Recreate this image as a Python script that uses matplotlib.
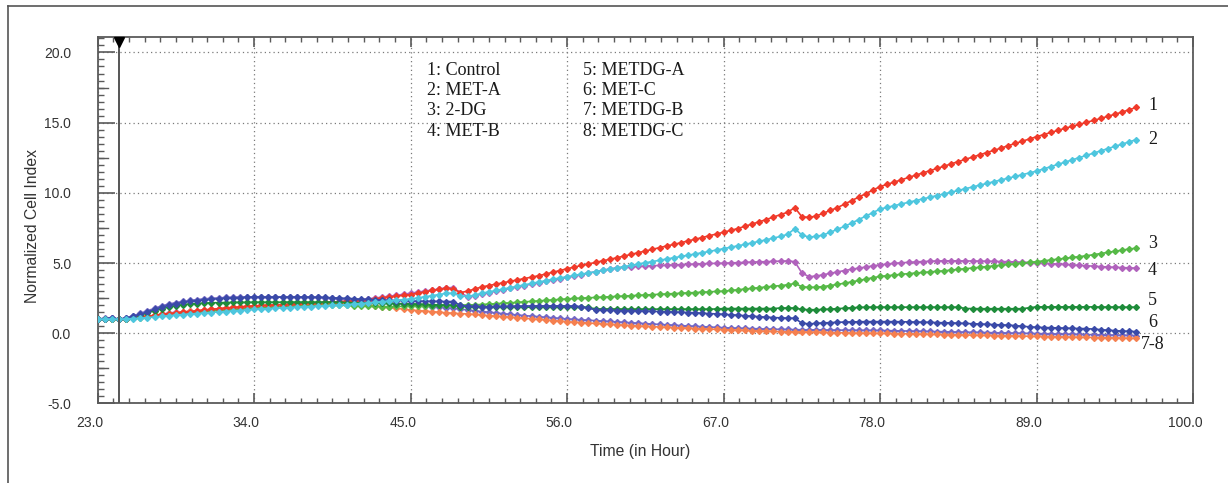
import numpy as np
import matplotlib
matplotlib.use("Agg")
import matplotlib.pyplot as plt
import matplotlib.transforms as mtransforms
from matplotlib.lines import Line2D
from matplotlib.ticker import FixedLocator, MultipleLocator, FormatStrFormatter

# ---------------- data ----------------
time_h = np.arange(23.0, 96.01, 0.5)   # measurement schedule, every 30 min

control = [
    1.00, 1.01, 1.02, 1.00, 1.05, 1.10, 1.15, 1.21, 1.28, 1.34,
    1.40, 1.45, 1.50, 1.55, 1.60, 1.65, 1.70, 1.75, 1.80, 1.84,
    1.88, 1.92, 1.95, 1.98, 2.00, 2.03, 2.05, 2.08, 2.10, 2.13,
    2.15, 2.18, 2.20, 2.23, 2.25, 2.28, 2.32, 2.36, 2.40, 2.46,
    2.52, 2.58, 2.64, 2.70, 2.76, 2.85, 2.95, 3.05, 3.12, 3.20,
    3.15, 2.90, 3.00, 3.15, 3.30, 3.40, 3.50, 3.60, 3.70, 3.80,
    3.90, 4.00, 4.10, 4.22, 4.35, 4.47, 4.60, 4.71, 4.83, 4.94,
    5.05, 5.16, 5.27, 5.38, 5.50, 5.62, 5.74, 5.86, 5.98, 6.10,
    6.22, 6.33, 6.45, 6.58, 6.70, 6.82, 6.95, 7.07, 7.20, 7.33,
    7.46, 7.62, 7.78, 7.94, 8.10, 8.28, 8.45, 8.62, 8.95, 8.30,
    8.25, 8.35, 8.55, 8.75, 8.95, 9.20, 9.45, 9.70, 9.95, 10.20,
    10.45, 10.61, 10.77, 10.93, 11.10, 11.26, 11.42, 11.58, 11.74, 11.90,
    12.07, 12.23, 12.39, 12.55, 12.71, 12.87, 13.03, 13.19, 13.36, 13.52,
    13.68, 13.84, 14.00, 14.15, 14.30, 14.45, 14.60, 14.74, 14.88, 15.02,
    15.16, 15.30, 15.45, 15.60, 15.75, 15.92, 16.08,
]
met_a = [
    1.00, 1.00, 1.01, 1.00, 1.02, 1.05, 1.08, 1.12, 1.15, 1.20,
    1.25, 1.29, 1.33, 1.37, 1.40, 1.44, 1.48, 1.52, 1.55, 1.59,
    1.62, 1.66, 1.70, 1.73, 1.75, 1.78, 1.80, 1.83, 1.85, 1.88,
    1.90, 1.93, 1.95, 1.98, 2.00, 2.04, 2.08, 2.12, 2.15, 2.20,
    2.25, 2.30, 2.35, 2.40, 2.45, 2.52, 2.60, 2.68, 2.76, 2.84,
    2.85, 2.65, 2.62, 2.72, 2.85, 2.95, 3.05, 3.15, 3.25, 3.35,
    3.45, 3.55, 3.65, 3.75, 3.85, 3.94, 4.03, 4.12, 4.21, 4.30,
    4.39, 4.48, 4.57, 4.66, 4.75, 4.84, 4.93, 5.02, 5.11, 5.20,
    5.29, 5.38, 5.47, 5.56, 5.65, 5.74, 5.83, 5.93, 6.03, 6.13,
    6.23, 6.33, 6.44, 6.55, 6.66, 6.78, 6.90, 7.05, 7.45, 7.00,
    6.85, 6.90, 7.00, 7.20, 7.40, 7.62, 7.85, 8.10, 8.35, 8.60,
    8.85, 8.97, 9.09, 9.21, 9.33, 9.45, 9.57, 9.69, 9.81, 9.93,
    10.05, 10.17, 10.30, 10.42, 10.55, 10.67, 10.80, 10.92, 11.05, 11.17,
    11.30, 11.42, 11.55, 11.71, 11.87, 12.03, 12.19, 12.35, 12.51, 12.67,
    12.83, 12.99, 13.15, 13.31, 13.47, 13.63, 13.79,
]
two_dg = [
    1.00, 1.00, 1.01, 1.00, 1.03, 1.07, 1.12, 1.17, 1.22, 1.28,
    1.34, 1.38, 1.42, 1.46, 1.50, 1.54, 1.58, 1.62, 1.65, 1.69,
    1.73, 1.77, 1.80, 1.83, 1.86, 1.88, 1.90, 1.92, 1.94, 1.96,
    1.97, 1.98, 1.99, 2.00, 2.00, 1.98, 1.96, 1.94, 1.93, 1.91,
    1.90, 1.90, 1.91, 1.92, 1.93, 1.95, 1.96, 1.97, 1.98, 1.99,
    2.00, 2.01, 2.02, 2.03, 2.05, 2.08, 2.11, 2.14, 2.17, 2.20,
    2.24, 2.27, 2.31, 2.34, 2.38, 2.41, 2.45, 2.48, 2.50, 2.53,
    2.55, 2.58, 2.60, 2.63, 2.65, 2.68, 2.70, 2.73, 2.75, 2.78,
    2.80, 2.83, 2.85, 2.88, 2.90, 2.93, 2.95, 2.98, 3.00, 3.05,
    3.10, 3.15, 3.20, 3.25, 3.30, 3.35, 3.40, 3.45, 3.55, 3.32,
    3.27, 3.28, 3.33, 3.40, 3.48, 3.57, 3.66, 3.76, 3.86, 3.96,
    4.05, 4.10, 4.15, 4.20, 4.25, 4.29, 4.33, 4.37, 4.41, 4.45,
    4.50, 4.55, 4.60, 4.65, 4.70, 4.75, 4.80, 4.85, 4.90, 4.95,
    5.00, 5.05, 5.10, 5.16, 5.22, 5.28, 5.34, 5.40, 5.46, 5.52,
    5.60, 5.68, 5.76, 5.84, 5.92, 6.00, 6.06,
]
met_b = [
    1.00, 1.04, 1.06, 1.00, 1.04, 1.08, 1.13, 1.20, 1.28, 1.36,
    1.44, 1.50, 1.52, 1.56, 1.60, 1.64, 1.68, 1.72, 1.75, 1.79,
    1.83, 1.87, 1.90, 1.93, 1.95, 1.98, 2.00, 2.03, 2.06, 2.09,
    2.12, 2.15, 2.18, 2.21, 2.25, 2.29, 2.34, 2.39, 2.45, 2.51,
    2.57, 2.64, 2.70, 2.78, 2.85, 2.93, 3.00, 3.08, 3.15, 3.25,
    3.25, 2.90, 2.60, 2.68, 2.80, 2.90, 3.00, 3.10, 3.20, 3.30,
    3.40, 3.50, 3.60, 3.70, 3.80, 3.89, 3.98, 4.08, 4.18, 4.28,
    4.38, 4.48, 4.58, 4.65, 4.70, 4.73, 4.76, 4.79, 4.81, 4.83,
    4.85, 4.87, 4.89, 4.91, 4.93, 4.95, 4.97, 4.98, 4.99, 5.01,
    5.03, 5.05, 5.07, 5.09, 5.10, 5.12, 5.14, 5.15, 5.10, 4.30,
    4.03, 4.08, 4.17, 4.27, 4.37, 4.47, 4.56, 4.64, 4.72, 4.80,
    4.88, 4.93, 4.98, 5.02, 5.05, 5.08, 5.11, 5.13, 5.15, 5.16,
    5.16, 5.16, 5.15, 5.15, 5.14, 5.13, 5.12, 5.11, 5.10, 5.08,
    5.06, 5.04, 5.02, 4.99, 4.96, 4.93, 4.90, 4.87, 4.84, 4.81,
    4.78, 4.75, 4.72, 4.70, 4.68, 4.66, 4.64,
]
metdg_a = [
    1.00, 1.00, 1.01, 1.00, 1.05, 1.18, 1.30, 1.45, 1.60, 1.75,
    1.88, 1.97, 2.04, 2.09, 2.12, 2.15, 2.17, 2.18, 2.19, 2.20,
    2.20, 2.20, 2.21, 2.21, 2.21, 2.21, 2.22, 2.22, 2.22, 2.22,
    2.22, 2.22, 2.22, 2.21, 2.20, 2.19, 2.18, 2.17, 2.16, 2.15,
    2.14, 2.13, 2.12, 2.11, 2.10, 2.08, 2.06, 2.04, 2.02, 2.00,
    1.98, 1.90, 1.88, 1.87, 1.86, 1.86, 1.86, 1.86, 1.86, 1.86,
    1.86, 1.86, 1.86, 1.86, 1.86, 1.86, 1.86, 1.86, 1.85, 1.84,
    1.74, 1.73, 1.73, 1.73, 1.72, 1.72, 1.72, 1.72, 1.72, 1.72,
    1.72, 1.72, 1.72, 1.72, 1.72, 1.72, 1.72, 1.73, 1.76, 1.76,
    1.76, 1.76, 1.76, 1.76, 1.76, 1.76, 1.80, 1.80, 1.80, 1.70,
    1.68, 1.68, 1.70, 1.72, 1.76, 1.78, 1.82, 1.84, 1.86, 1.86,
    1.86, 1.86, 1.86, 1.86, 1.86, 1.86, 1.86, 1.86, 1.86, 1.86,
    1.86, 1.86, 1.76, 1.76, 1.75, 1.75, 1.75, 1.75, 1.75, 1.75,
    1.75, 1.82, 1.88, 1.88, 1.88, 1.88, 1.88, 1.88, 1.88, 1.88,
    1.88, 1.87, 1.87, 1.87, 1.86, 1.86, 1.86,
]
met_c = [
    1.00, 1.05, 1.10, 1.00, 1.08, 1.20, 1.35, 1.52, 1.70, 1.86,
    2.00, 2.10, 2.20, 2.27, 2.33, 2.38, 2.42, 2.46, 2.50, 2.52,
    2.54, 2.56, 2.57, 2.57, 2.57, 2.57, 2.57, 2.57, 2.57, 2.57,
    2.57, 2.56, 2.55, 2.53, 2.51, 2.49, 2.46, 2.43, 2.41, 2.39,
    2.37, 2.35, 2.33, 2.31, 2.30, 2.29, 2.28, 2.27, 2.27, 2.26,
    2.26, 2.00, 1.92, 1.91, 1.90, 1.90, 1.91, 1.92, 1.93, 1.94,
    1.94, 1.95, 1.95, 1.95, 1.95, 1.95, 1.95, 1.94, 1.90, 1.80,
    1.66, 1.64, 1.63, 1.62, 1.62, 1.61, 1.60, 1.58, 1.56, 1.55,
    1.53, 1.52, 1.50, 1.48, 1.46, 1.43, 1.40, 1.38, 1.35, 1.32,
    1.29, 1.25, 1.22, 1.18, 1.15, 1.12, 1.10, 1.08, 1.07, 0.72,
    0.67, 0.70, 0.74, 0.76, 0.78, 0.80, 0.81, 0.82, 0.83, 0.83,
    0.83, 0.83, 0.83, 0.82, 0.81, 0.80, 0.79, 0.78, 0.76, 0.75,
    0.74, 0.72, 0.70, 0.68, 0.66, 0.64, 0.62, 0.60, 0.58, 0.55,
    0.50, 0.46, 0.43, 0.41, 0.40, 0.38, 0.37, 0.35, 0.34, 0.33,
    0.30, 0.26, 0.22, 0.19, 0.16, 0.14, 0.12,
]
metdg_b = [
    1.00, 1.08, 1.12, 1.00, 1.10, 1.25, 1.42, 1.60, 1.78, 1.95,
    2.08, 2.18, 2.27, 2.34, 2.40, 2.45, 2.49, 2.52, 2.55, 2.57,
    2.58, 2.59, 2.60, 2.60, 2.60, 2.60, 2.60, 2.60, 2.60, 2.59,
    2.58, 2.56, 2.54, 2.50, 2.45, 2.40, 2.35, 2.30, 2.26, 2.22,
    2.18, 2.14, 2.10, 2.06, 2.02, 1.98, 1.94, 1.90, 1.86, 1.82,
    1.78, 1.72, 1.66, 1.60, 1.55, 1.50, 1.45, 1.40, 1.35, 1.30,
    1.26, 1.22, 1.18, 1.14, 1.10, 1.06, 1.02, 0.99, 0.96, 0.93,
    0.90, 0.87, 0.84, 0.81, 0.78, 0.75, 0.72, 0.69, 0.66, 0.63,
    0.60, 0.58, 0.55, 0.52, 0.50, 0.47, 0.45, 0.42, 0.40, 0.38,
    0.36, 0.35, 0.33, 0.32, 0.30, 0.29, 0.28, 0.27, 0.26, 0.25,
    0.25, 0.24, 0.24, 0.23, 0.23, 0.22, 0.22, 0.21, 0.21, 0.20,
    0.20, 0.19, 0.18, 0.17, 0.16, 0.15, 0.14, 0.13, 0.12, 0.11,
    0.10, 0.09, 0.08, 0.07, 0.06, 0.05, 0.04, 0.03, 0.02, 0.01,
    0.00, -0.01, -0.02, -0.03, -0.04, -0.05, -0.06, -0.07, -0.08, -0.09,
    -0.10, -0.11, -0.12, -0.13, -0.14, -0.15, -0.16,
]
metdg_c = [
    1.00, 1.00, 1.01, 1.00, 1.03, 1.08, 1.14, 1.20, 1.27, 1.34,
    1.40, 1.46, 1.52, 1.57, 1.62, 1.67, 1.72, 1.76, 1.80, 1.84,
    1.88, 1.91, 1.94, 1.97, 2.00, 2.02, 2.04, 2.06, 2.08, 2.09,
    2.10, 2.11, 2.12, 2.12, 2.12, 2.11, 2.08, 2.04, 2.00, 1.95,
    1.90, 1.84, 1.78, 1.72, 1.66, 1.62, 1.58, 1.54, 1.50, 1.46,
    1.43, 1.40, 1.38, 1.34, 1.30, 1.26, 1.22, 1.19, 1.15, 1.11,
    1.07, 1.03, 0.99, 0.95, 0.91, 0.87, 0.82, 0.79, 0.76, 0.73,
    0.70, 0.67, 0.64, 0.61, 0.58, 0.55, 0.52, 0.49, 0.47, 0.45,
    0.43, 0.40, 0.38, 0.36, 0.34, 0.32, 0.30, 0.28, 0.26, 0.24,
    0.22, 0.20, 0.18, 0.16, 0.15, 0.13, 0.12, 0.11, 0.10, 0.09,
    0.08, 0.07, 0.06, 0.05, 0.04, 0.03, 0.02, 0.01, 0.01, 0.00,
    0.00, -0.01, -0.02, -0.03, -0.04, -0.05, -0.06, -0.07, -0.08, -0.09,
    -0.10, -0.11, -0.12, -0.13, -0.14, -0.15, -0.16, -0.17, -0.18, -0.19,
    -0.20, -0.21, -0.22, -0.23, -0.24, -0.25, -0.26, -0.27, -0.28, -0.29,
    -0.30, -0.31, -0.32, -0.33, -0.34, -0.35, -0.36,
]

series_names = ["Control", "MET-A", "2-DG", "MET-B", "METDG-A", "MET-C", "METDG-B", "METDG-C"]
series_values = [control, met_a, two_dg, met_b, metdg_a, met_c, metdg_b, metdg_c]
series_colors = ["#f03a2a", "#4ec6de", "#56b947", "#b062bc", "#1e8c3a", "#3a4aa8", "#7468c4", "#f5804f"]
series_z = [3.2, 3.5, 3.1, 3.0, 3.3, 3.4, 3.05, 3.06]

end_labels = ["1", "2", "3", "4", "5", "6", "7-8"]
end_label_y = [16.25, 13.8, 6.36, 4.46, 2.37, 0.76, -0.83]

x_ticks = [23.0, 34.0, 45.0, 56.0, 67.0, 78.0, 89.0, 100.0]
y_ticks = [-5.0, 0.0, 5.0, 10.0, 15.0, 20.0]
treatment_time = 24.5

# ---------------- figure ----------------
fig = plt.figure(figsize=(12.28, 4.83), dpi=100)
ax = fig.add_axes([0.0795, 0.1646, 0.8921, 0.7588])

spine_col = "#5a5a5a"
text_col = "#333333"

for yv, c, z in zip(series_values, series_colors, series_z):
    ax.plot(time_h, yv, color=c, lw=1.2, marker="D", ms=3.0, mec=c, mfc=c, zorder=z)

ax.set_xlim(23.0, 100.0)
ax.set_ylim(-5.0, 21.1)

# treatment line with marker
ax.plot([treatment_time, treatment_time], [-5.0, 20.55], color="#555555", lw=1.4, zorder=4)
ax.plot([treatment_time], [20.75], marker="v", color="black", ms=7, clip_on=False, zorder=5)

# ticks
ax.xaxis.set_major_locator(FixedLocator(x_ticks))
ax.xaxis.set_minor_locator(FixedLocator(np.arange(23.0, 100.01, 1.1)))
ax.yaxis.set_major_locator(FixedLocator(y_ticks))
ax.yaxis.set_minor_locator(MultipleLocator(0.5))
ax.xaxis.set_major_formatter(FormatStrFormatter("%.1f"))
ax.yaxis.set_major_formatter(FormatStrFormatter("%.1f"))

ax.tick_params(axis="x", which="major", direction="in", length=7.2, width=1.2, color=spine_col,
               top=True, bottom=True, labelsize=10, labelcolor=text_col, pad=9)
ax.tick_params(axis="x", which="minor", direction="in", length=3.6, width=1.0, color=spine_col,
               top=True, bottom=True)
ax.tick_params(axis="y", which="major", direction="in", length=12, width=1.2, color=spine_col,
               left=True, right=False, labelsize=10, labelcolor=text_col, pad=19)
ax.tick_params(axis="y", which="minor", direction="in", length=4.3, width=1.0, color=spine_col,
               left=True, right=False)

for lab in ax.get_xticklabels() + ax.get_yticklabels():
    lab.set_fontfamily("Liberation Sans")

# medium ticks at half-way between major y ticks
trans_blend = mtransforms.blended_transform_factory(ax.transAxes, ax.transData)
for yv in y_ticks[:-1]:
    ax.plot([0, 10 / 1095.0], [yv + 2.5, yv + 2.5], transform=trans_blend, color=spine_col,
            lw=1.0, clip_on=False, zorder=5)

# shift x tick labels left a little (as in the reference)
offset = mtransforms.ScaledTranslation(-0.08, 0, fig.dpi_scale_trans)
for tk in ax.xaxis.get_major_ticks():
    tk.label1.set_transform(tk.label1.get_transform() + offset)

for sp in ax.spines.values():
    sp.set_color(spine_col)
    sp.set_linewidth(1.3)

ax.grid(True, which="major", color="#7a7a7a", lw=0.9, linestyle=(0, (1, 2.5)))
ax.set_axisbelow(True)

ax.set_xlabel("Time (in Hour)", fontsize=11.3, color=text_col, family="Liberation Sans")
ax.set_ylabel("Normalized Cell Index", fontsize=11.3, color=text_col, family="Liberation Sans")
ax.xaxis.set_label_coords(0.495, -0.132)
ax.xaxis.label.set_va("center")
ax.yaxis.set_label_coords(-0.059, 0.484)
ax.yaxis.label.set_va("center")

# legend block (two columns of numbered text)
leg_x = [46.15, 57.15]
leg_y0 = 18.74
leg_dy = 1.445
for i, name in enumerate(series_names):
    col = i // 4
    row = i % 4
    ax.text(leg_x[col], leg_y0 - row * leg_dy, f"{i + 1}: {name}", family="Liberation Serif",
            fontsize=13, color="#1a1a1a", ha="left", va="center")

# end-of-curve labels
for lab, yv in zip(end_labels, end_label_y):
    ax.text(97.15, yv, lab, family="Liberation Serif", fontsize=13, color="#1a1a1a",
            ha="center", va="center", clip_on=False)

# outer frame of the picture (left and top edges visible)
fig.add_artist(Line2D([0.0065, 0.0065], [0.0, 0.9876], transform=fig.transFigure, color="#555555", lw=1.2))
fig.add_artist(Line2D([0.0065, 1.0], [0.9876, 0.9876], transform=fig.transFigure, color="#555555", lw=1.2))

fig.savefig("out.png", dpi=100)
